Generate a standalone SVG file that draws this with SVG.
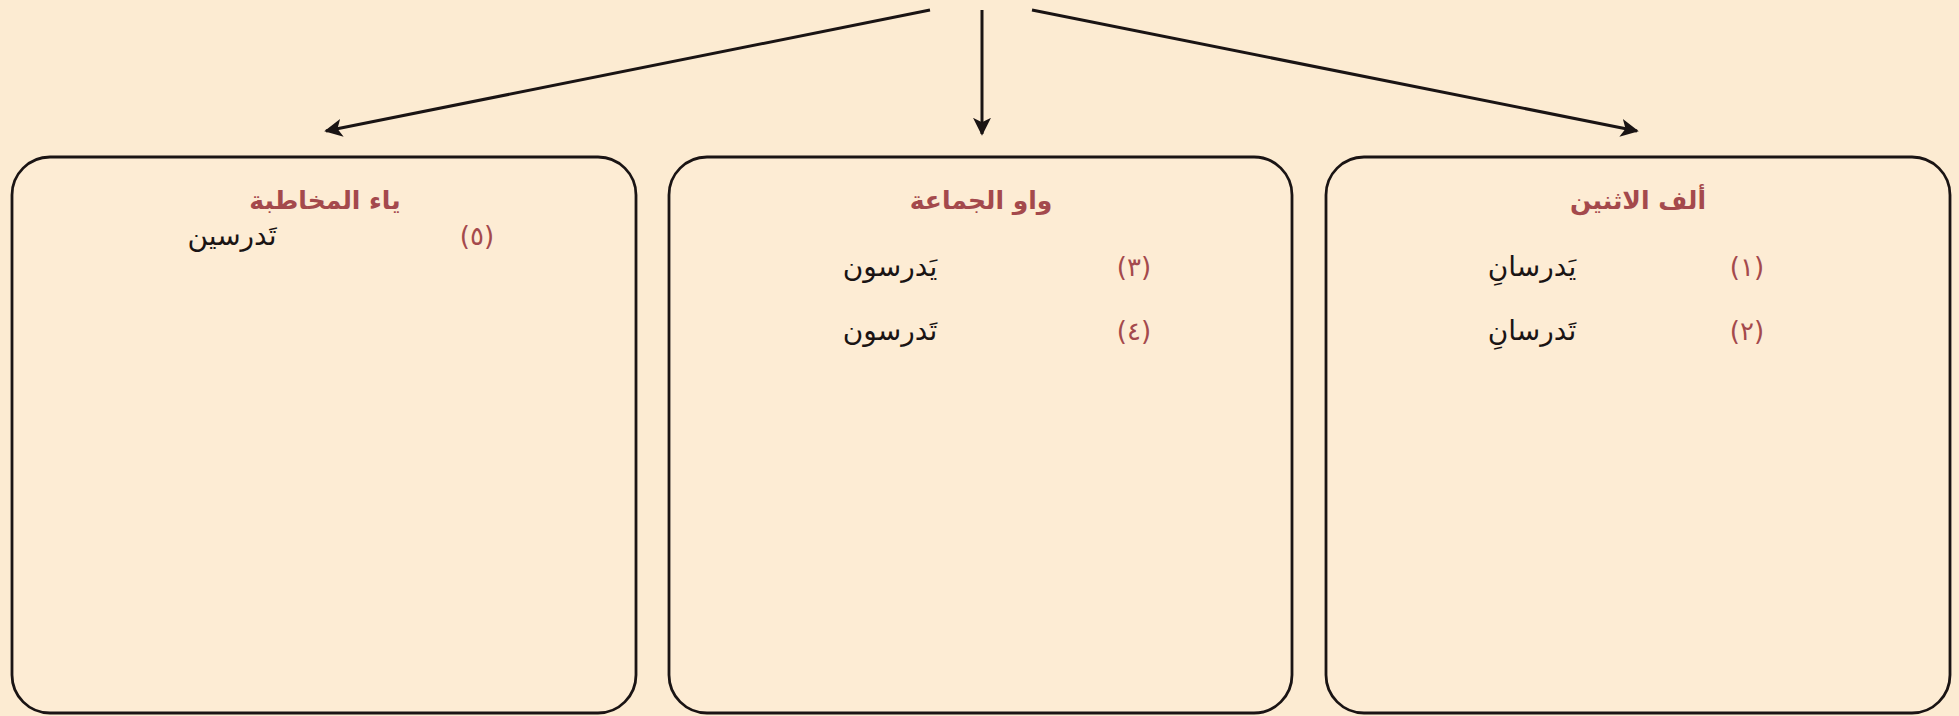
<svg xmlns="http://www.w3.org/2000/svg" width="1959" height="716" viewBox="0 0 1959 716">
<style>
.bg{fill:#fcebd2}
.box{fill:#fdecd4;stroke:#1a1414;stroke-width:2.8}
.title{font-family:"DejaVu Sans",sans-serif;font-size:25px;font-weight:bold;fill:#a4494c;text-anchor:middle}
.num{font-family:"DejaVu Sans",sans-serif;font-size:26px;fill:#a4494c;text-anchor:middle}
.word{font-family:"DejaVu Sans",sans-serif;font-size:28px;fill:#1a1414;text-anchor:middle}
.conn{stroke:#1a1414;stroke-width:3;fill:none}
</style>
<defs>
<marker id="ah" viewBox="0 0 10 10" refX="9" refY="5" markerWidth="6" markerHeight="6" markerUnits="strokeWidth" orient="auto">
<path d="M0,0 L10,5 L0,10 L2.5,5 z" fill="#1a1414"/>
</marker>
</defs>
<rect class="bg" x="0" y="0" width="1959" height="716"/>
<g id="connectors">
<line class="conn" x1="930" y1="10" x2="326" y2="131" marker-end="url(#ah)"/>
<line class="conn" x1="982" y1="10" x2="982" y2="134" marker-end="url(#ah)"/>
<line class="conn" x1="1032" y1="10" x2="1637" y2="131" marker-end="url(#ah)"/>
</g>
<g id="node-alif">
<rect class="box" x="1326" y="157" width="624" height="556" rx="38"/>
<text class="title" x="1638" y="209" direction="rtl">ألف الاثنين</text>
<text class="num" x="1747" y="276" direction="rtl">(١)</text>
<text class="word" x="1532" y="276" direction="rtl">يَدرسانِ</text>
<text class="num" x="1747" y="340" direction="rtl">(٢)</text>
<text class="word" x="1532" y="340" direction="rtl">تَدرسانِ</text>
</g>
<g id="node-waw">
<rect class="box" x="669" y="157" width="623" height="556" rx="38"/>
<text class="title" x="981" y="209" direction="rtl">واو الجماعة</text>
<text class="num" x="1134" y="276" direction="rtl">(٣)</text>
<text class="word" x="890" y="276" direction="rtl">يَدرسون</text>
<text class="num" x="1134" y="340" direction="rtl">(٤)</text>
<text class="word" x="890" y="340" direction="rtl">تَدرسون</text>
</g>
<g id="node-ya">
<rect class="box" x="12" y="157" width="624" height="556" rx="38"/>
<text class="title" x="325" y="209" direction="rtl">ياء المخاطبة</text>
<text class="num" x="477" y="245" direction="rtl">(٥)</text>
<text class="word" x="232" y="245" direction="rtl">تَدرسين</text>
</g>
</svg>
